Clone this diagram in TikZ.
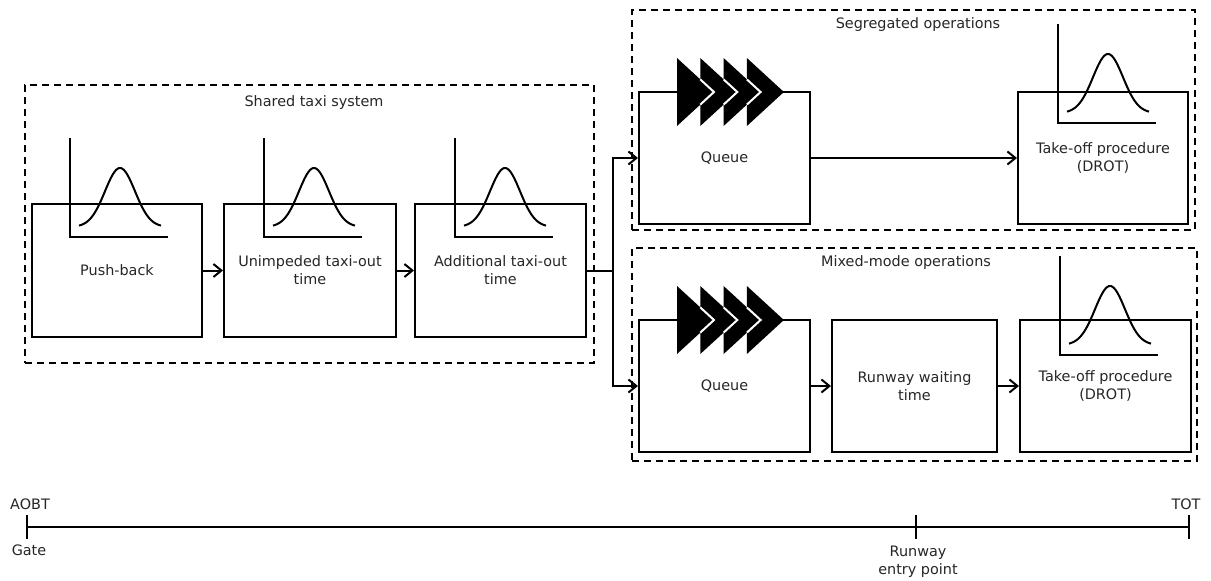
\documentclass[tikz,border=0pt]{standalone}
\usepackage{fontspec}
\setmainfont{DejaVu Sans}
\usetikzlibrary{arrows.meta}

% axis pair with a bell-shaped density curve; #1 = axis x, #2 = axis bottom y
\newcommand\densitycurve[2]{%
  \draw[axisline] (#1,#2-99) -- (#1,#2) -- (#1+98,#2);
  \draw[curve] plot[domain=-41:41,samples=61,smooth]
    ({#1+50+\x},{#2-10-59*exp(-(\x/15)^2/2)});
}

% four overlapping chevrons marking a queue; #1 = left x, #2 = centre y
\newcommand\queuemark[2]{%
  \foreach \k in {0,...,3}
    \fill ({#1+23.3*\k},{#2-34}) -- ({#1+23.3*\k+37},#2) -- ({#1+23.3*\k},{#2+34}) -- cycle;
  \foreach \k in {0,1,2}
    \draw[white,line width=2pt]
      ({#1+23.3*\k+23.3},{#2-34+34*23.3/37}) -- ({#1+23.3*\k+37},#2)
      -- ({#1+23.3*\k+23.3},{#2+34-34*23.3/37});
}

\begin{document}
\begin{tikzpicture}[x=1pt,y=-1pt,
  lbl/.style={font=\fontsize{14.4}{18}\selectfont, align=center, inner sep=0pt, text=black!85},
  procbox/.style={draw, line width=2pt, minimum height=132pt, inner sep=0pt, lbl},
  groupbox/.style={draw, dash pattern=on 7pt off 5pt, line width=2pt, inner sep=0pt},
  arr/.style={line width=2pt, -{Straight Barb[length=8pt,width=13pt]}},
  axisline/.style={line width=2pt},
  curve/.style={line width=2pt, line join=round},
  tick/.style={line width=2pt}]

\useasboundingbox (0,0) rectangle (1211,581);

% grouping frames
\node[groupbox, minimum width=569pt, minimum height=278pt] (shared) at (309.5,224) {};
\node[lbl] (sharedtitle) at (314,103) {Shared taxi system};
\node[groupbox, minimum width=563pt, minimum height=220pt] (seg) at (913.5,120) {};
\node[lbl] (segtitle) at (918,25) {Segregated operations};
\node[groupbox, minimum width=565pt, minimum height=213pt] (mixed) at (914.5,354.5) {};
\node[lbl] (mixedtitle) at (906,263) {Mixed-mode operations};

% process steps
\node[procbox, minimum width=170pt, minimum height=133pt] (push)  at (117,270.5)  {Push-back};
\node[procbox, minimum width=172pt, minimum height=133pt] (unimp) at (310,270.5)  {Unimpeded taxi-out\\time};
\node[procbox, minimum width=171pt, minimum height=133pt] (addl)  at (500.5,270.5) {Additional taxi-out\\time};
\node[procbox, minimum width=171pt] (q1) at (724.5,158) {Queue};
\node[procbox, minimum width=170pt] (t1) at (1103,158) {Take-off procedure\\(DROT)};
\node[procbox, minimum width=171pt] (q2) at (724.5,386) {Queue};
\node[procbox, minimum width=165pt] (rw) at (914.5,386) {Runway waiting\\time};
\node[procbox, minimum width=171pt] (t2) at (1105.5,386) {Take-off procedure\\(DROT)};

% stochastic durations
\densitycurve{70}{237}
\densitycurve{264}{237}
\densitycurve{455}{237}
\densitycurve{1058}{123}
\densitycurve{1060}{355}

% queues
\queuemark{677}{92}
\queuemark{677}{320}

% flow
\draw[arr] (push) -- (unimp);
\draw[arr] (unimp) -- (addl);
\draw[line width=2pt] (addl.east) -- ++(26,0) coordinate (split);
\draw[arr] (split) |- (q1.west);
\draw[arr] (split) |- (q2.west);
\draw[arr] (q1) -- (t1);
\draw[arr] (q2) -- (rw);
\draw[arr] (rw) -- (t2);

% time line
\coordinate (aobt) at (27,527);
\coordinate (rwy) at (916,527);
\coordinate (tot) at (1189,527);
\draw[tick] (aobt) -- (tot);
\foreach \c in {aobt,rwy,tot}
  \draw[tick] ([yshift=12pt]\c) -- ([yshift=-12pt]\c);
\node[lbl] (aobtlbl) at (30,504) {AOBT};
\node[lbl] (gatelbl) at (29,550) {Gate};
\node[lbl] (rwylbl) at (918,562) {Runway\\entry point};
\node[lbl] (totlbl) at (1186,504) {TOT};
\end{tikzpicture}
\end{document}
